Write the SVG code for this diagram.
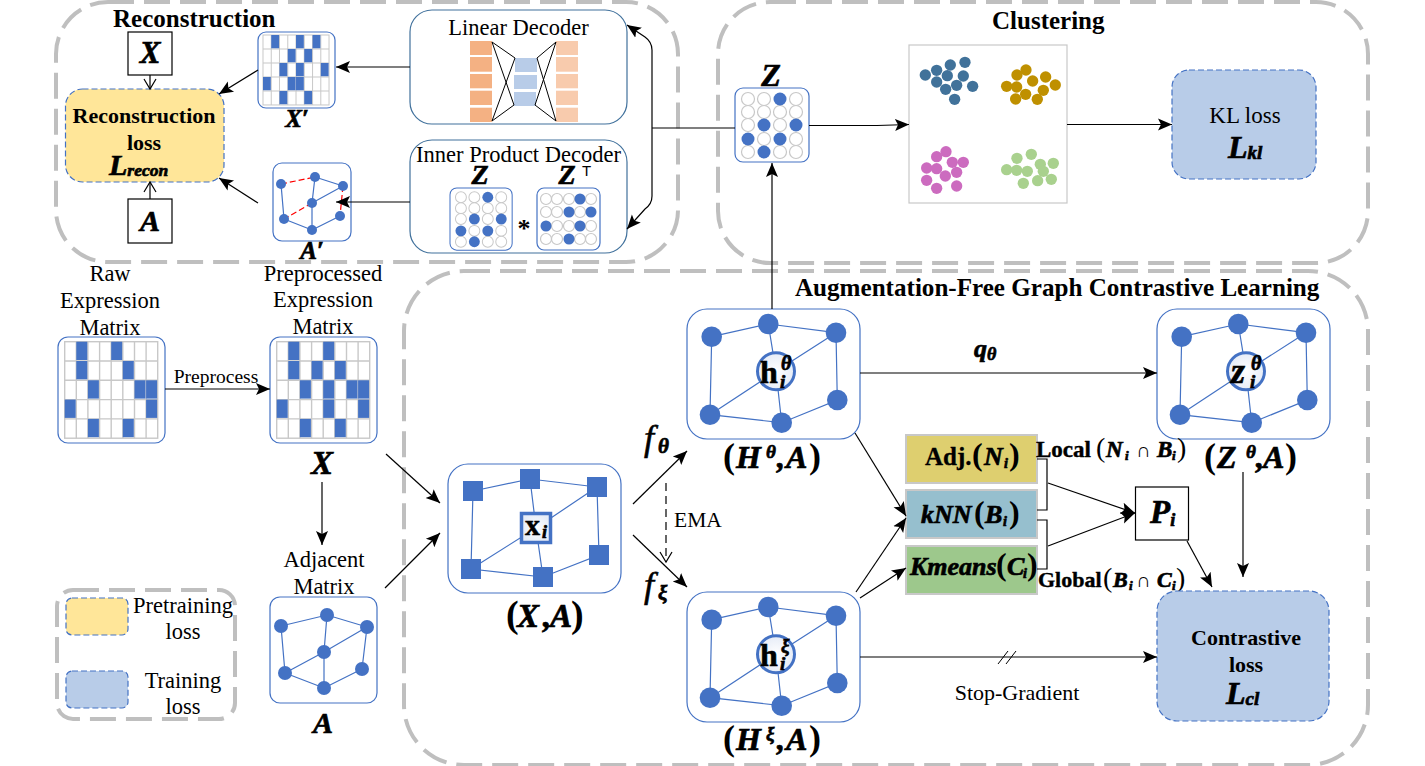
<svg xmlns="http://www.w3.org/2000/svg" width="1425" height="766" viewBox="0 0 1425 766">
<style>
text{font-family:"Liberation Serif","Times New Roman",serif;fill:#000}
.t{font-size:22.500px;text-anchor:middle}
.b{font-weight:bold}
.m{font-weight:bold;font-style:italic;stroke:#000;stroke-width:.7px}
.p{font-weight:bold;font-style:normal;stroke:none}
.u{font-weight:normal;font-style:normal;stroke:none}
.mid{text-anchor:middle}
.frame{fill:none;stroke:#bfbfbf;stroke-width:4;stroke-dasharray:26 10}
.card{fill:#fff;stroke:#4472c4;stroke-width:1.2}
.dec{fill:#fff;stroke:#41719c;stroke-width:1.2}
.lossY{fill:#ffe699;stroke:#4472c4;stroke-width:1.2;stroke-dasharray:6 3}
.lossB{fill:#b8cce8;stroke:#4472c4;stroke-width:1.2;stroke-dasharray:6 3}
.e{stroke:#4472c4;stroke-width:1.2;fill:none}
.r{stroke:#f00;stroke-width:1.2;fill:none;stroke-dasharray:6 3}
.n{fill:#4472c4}
.o{fill:#fff;stroke:#c8c8c8;stroke-width:1.2}
.c{fill:none;stroke:#000;stroke-width:1.2}
.a{marker-end:url(#arr)}
.v{marker-end:url(#vee)}
.box{fill:#fff;stroke:#000;stroke-width:1.2}
.tag{stroke:#c8c8c8;stroke-width:2}
.th{fill:none;stroke:#000;stroke-width:1}
</style>
<defs>
<marker id="arr" markerUnits="userSpaceOnUse" markerWidth="15" markerHeight="15" viewBox="0 0 15 15" refX="14" refY="7.500" orient="auto"><path d="M0 1.500 L14 7.500 L0 13.500 L3 7.500Z" fill="#000"/></marker>
<marker id="arrS" markerUnits="userSpaceOnUse" markerWidth="15" markerHeight="15" viewBox="0 0 15 15" refX="14" refY="7.500" orient="auto-start-reverse"><path d="M0 1.500 L14 7.500 L0 13.500 L3 7.500Z" fill="#000"/></marker>
<marker id="vee" markerUnits="userSpaceOnUse" markerWidth="14" markerHeight="14" viewBox="0 0 14 14" refX="12" refY="7" orient="auto"><path d="M2 1 L12 7 L2 13" fill="none" stroke="#000" stroke-width="1.2"/></marker>
<radialGradient id="glow"><stop offset="0" stop-color="#fff"/><stop offset="1" stop-color="#e6ecf7"/></radialGradient>
<rect id="cell" width="11" height="18.300" fill="#4472c4"/>
<g id="gridbase">
<rect x="0" y="0" width="93" height="96.500" fill="#fff" stroke="#c8c8c8" stroke-width="1.400"/>
<path d="M11.600 0V96.500M23.200 0V96.500M34.900 0V96.500M46.500 0V96.500M58.100 0V96.500M69.800 0V96.500M81.400 0V96.500M0 19.300H93M0 38.600H93M0 57.900H93M0 77.200H93" fill="none" stroke="#c8c8c8" stroke-width="1.400"/>
</g>
<g id="zmat">
<rect class="card" x="0" y="0" width="74" height="74" rx="8"/>
<g class="o"><circle cx="13" cy="11" r="6.500"/><circle cx="29" cy="11" r="6.500"/><circle cx="61" cy="11" r="6.500"/><circle cx="13" cy="24" r="6.500"/><circle cx="29" cy="24" r="6.500"/><circle cx="45" cy="24" r="6.500"/><circle cx="61" cy="24" r="6.500"/><circle cx="13" cy="37" r="6.500"/><circle cx="45" cy="37" r="6.500"/><circle cx="29" cy="51" r="6.500"/><circle cx="61" cy="51" r="6.500"/><circle cx="13" cy="64" r="6.500"/><circle cx="45" cy="64" r="6.500"/><circle cx="61" cy="64" r="6.500"/></g>
<g class="n"><circle cx="45" cy="11" r="6.500"/><circle cx="29" cy="37" r="6.500"/><circle cx="61" cy="37" r="6.500"/><circle cx="13" cy="51" r="6.500"/><circle cx="45" cy="51" r="6.500"/><circle cx="29" cy="64" r="6.500"/></g>
</g>
<g id="hgraph">
<rect class="card" x="0" y="0" width="173" height="130" rx="20"/>
<path class="e" d="M24.700 27.700L81.300 15L149 23.700M24.700 27.700L23 105.700L94.700 113.700L150.300 91L149 23.700M81.300 15L89 62.300M149 23.700L89 62.300M23 105.700L89 62.300M94.700 113.700L89 62.300"/>
<g class="n"><circle cx="24.700" cy="27.700" r="10.300"/><circle cx="81.300" cy="15" r="10.300"/><circle cx="149" cy="23.700" r="10.300"/><circle cx="150.300" cy="91" r="10.300"/><circle cx="94.700" cy="113.700" r="10.300"/><circle cx="23" cy="105.700" r="10.300"/></g>
<circle cx="89" cy="62.300" r="18.500" fill="url(#glow)" stroke="#4472c4" stroke-width="3"/>
</g>
</defs>

<g id="frames">
<rect class="frame" x="56" y="2" width="622" height="260" rx="52"/>
<rect class="frame" x="718" y="2" width="650" height="261" rx="52"/>
<rect class="frame" x="404" y="271" width="964" height="494" rx="60"/>
<rect class="frame" x="57" y="590" width="178" height="129" rx="16"/>
</g>

<g id="title-recon"><text class="b" x="113" y="27" font-size="25">Reconstruction</text></g>
<g id="title-cluster"><text class="b" x="992" y="29" font-size="25">Clustering</text></g>
<g id="title-afgcl"><text class="b" x="795" y="296" font-size="25.100">Augmentation-Free Graph Contrastive Learning</text></g>

<g id="node-x-target"><rect class="box" x="128" y="32" width="44" height="43"/><text class="m mid" x="150" y="63" font-size="31">X</text></g>
<g id="node-a-target"><rect class="box" x="128" y="199" width="44" height="44"/><text class="m mid" x="150" y="231" font-size="30">A</text></g>

<g id="node-recon-loss">
<rect class="lossY" x="65.500" y="89" width="158.500" height="93" rx="17"/>
<text class="t b" x="144" y="123" style="font-size:22px">Reconstruction</text>
<text class="t b" x="144" y="150" style="font-size:22px">loss</text>
<text class="m" x="109" y="175" font-size="30">L<tspan font-size="17.500" dy="1">recon</tspan></text>
</g>

<g id="node-xprime">
<rect class="card" x="258" y="32" width="77" height="76" rx="8"/>
<g transform="translate(263 35) scale(.71 .725)">
<use href="#gridbase"/>
<use href="#cell" x="11.600" y="0"/><use href="#cell" x="46.500" y="0"/><use href="#cell" x="69.800" y="0"/>
<use href="#cell" x="34.900" y="19.300"/><use href="#cell" x="58.100" y="19.300"/>
<use href="#cell" x="23.200" y="38.600"/><use href="#cell" x="46.500" y="38.600"/><use href="#cell" x="81.400" y="38.600"/>
<use href="#cell" x="0" y="57.900"/><use href="#cell" x="34.900" y="57.900"/><use href="#cell" x="46.500" y="57.900"/>
<use href="#cell" x="23.200" y="77.200"/><use href="#cell" x="58.100" y="77.200"/>
</g>
<text class="m mid" x="297" y="127" font-size="25">X′</text>
</g>

<g id="node-aprime">
<rect class="card" x="273" y="163" width="78" height="78" rx="9"/>
<path class="e" d="M315 177L343 186M281 184L284 219M315 177L312 203M343 186L312 203M312 203V230M284 219L312 230M340 216L312 230"/>
<path class="r" d="M281 184L315 177M343 186L340 216M312 203L284 219"/>
<g class="n"><circle cx="281" cy="184" r="5"/><circle cx="315" cy="177" r="5"/><circle cx="343" cy="186" r="5"/><circle cx="312" cy="203" r="5"/><circle cx="340" cy="216" r="5"/><circle cx="284" cy="219" r="5"/><circle cx="312" cy="230" r="5"/></g>
<text class="m mid" x="312" y="259" font-size="25">A′</text>
</g>

<g id="node-linear-decoder">
<rect class="dec" x="410" y="10" width="217" height="114" rx="22"/>
<text class="t" x="518.500" y="35">Linear Decoder</text>
<g fill="#f4b183"><rect x="470" y="41" width="22" height="14"/><rect x="470" y="57" width="22" height="14.700"/><rect x="470" y="74" width="22" height="14.300"/><rect x="470" y="90.700" width="22" height="14.300"/><rect x="470" y="107.700" width="22" height="14.300"/></g>
<g fill="#f8cbad"><rect x="556" y="41" width="22" height="14"/><rect x="556" y="57" width="22" height="14.700"/><rect x="556" y="74" width="22" height="14.300"/><rect x="556" y="90.700" width="22" height="14.300"/><rect x="556" y="107.700" width="22" height="14.300"/></g>
<g fill="#b8cce8"><rect x="515" y="58" width="22" height="14"/><rect x="514" y="75" width="23" height="14"/><rect x="514" y="92" width="22" height="14"/></g>
<path d="M492 42L515 58M492 42L514 105M492 121L515 58M492 121L514 105M537 58L556 42M537 58L556 121M535 105L556 42M535 105L556 121" fill="none" stroke="#000" stroke-width="1"/>
</g>

<g id="node-inner-decoder">
<rect class="dec" x="410" y="140" width="217" height="113" rx="22"/>
<text class="t" x="518.500" y="162">Inner Product Decoder</text>
<text class="m mid" x="480" y="184" font-size="28">Z</text>
<text class="m mid" x="567" y="184" font-size="28">Z</text>
<text x="582" y="176" font-size="15" style="font-family:'Liberation Sans',Arial,sans-serif">T</text>
<use href="#zmat" transform="translate(450 188) scale(.84)"/>
<text class="b mid" x="524" y="237" font-size="26">*</text>
<rect class="card" x="537" y="188" width="63" height="62" rx="7"/>
<g class="o"><circle cx="546" cy="199" r="5.500"/><circle cx="557" cy="199" r="5.500"/><circle cx="569" cy="199" r="5.500"/><circle cx="591" cy="199" r="5.500"/><circle cx="546" cy="212" r="5.500"/><circle cx="557" cy="212" r="5.500"/><circle cx="580" cy="212" r="5.500"/><circle cx="557" cy="226" r="5.500"/><circle cx="569" cy="226" r="5.500"/><circle cx="591" cy="226" r="5.500"/><circle cx="546" cy="239" r="5.500"/><circle cx="557" cy="239" r="5.500"/><circle cx="580" cy="239" r="5.500"/><circle cx="591" cy="239" r="5.500"/></g>
<g class="n"><circle cx="580" cy="199" r="5.500"/><circle cx="569" cy="212" r="5.500"/><circle cx="591" cy="212" r="5.500"/><circle cx="546" cy="226" r="5.500"/><circle cx="580" cy="226" r="5.500"/><circle cx="569" cy="239" r="5.500"/></g>
</g>

<g id="node-z">
<text class="m mid" x="771" y="86" font-size="32">Z</text>
<use href="#zmat" transform="translate(735 88)"/>
</g>

<g id="node-clusters">
<rect x="909" y="45" width="158" height="158" fill="#fff" stroke="#c8c8c8" stroke-width="1.200"/>
<g transform="translate(720 30) scale(.3333)">
<g fill="#41729a"><circle cx="735" cy="97" r="17"/><circle cx="691" cy="105" r="17"/><circle cx="650" cy="121" r="17"/><circle cx="616" cy="135" r="17"/><circle cx="682" cy="137" r="17"/><circle cx="730" cy="138" r="17"/><circle cx="650" cy="156" r="17"/><circle cx="710" cy="166" r="17"/><circle cx="758" cy="169" r="17"/><circle cx="677" cy="178" r="17"/><circle cx="704" cy="208" r="17"/></g>
<g fill="#bf9000"><circle cx="918" cy="120" r="17"/><circle cx="891" cy="135" r="17"/><circle cx="977" cy="141" r="17"/><circle cx="938" cy="153" r="17"/><circle cx="1006" cy="165" r="17"/><circle cx="860" cy="169" r="17"/><circle cx="890" cy="171" r="17"/><circle cx="970" cy="181" r="17"/><circle cx="917" cy="193" r="17"/><circle cx="887" cy="207" r="17"/><circle cx="952" cy="208" r="17"/></g>
<g fill="#cc6bbf"><circle cx="678" cy="365" r="17"/><circle cx="650" cy="380" r="17"/><circle cx="730" cy="397" r="17"/><circle cx="697" cy="397" r="17"/><circle cx="620" cy="414" r="17"/><circle cx="650" cy="416" r="17"/><circle cx="710" cy="427" r="17"/><circle cx="676" cy="438" r="17"/><circle cx="620" cy="451" r="17"/><circle cx="710" cy="468" r="17"/><circle cx="650" cy="475" r="17"/></g>
<g fill="#a9d18e"><circle cx="934" cy="373" r="17"/><circle cx="891" cy="385" r="17"/><circle cx="961" cy="403" r="17"/><circle cx="1000" cy="400" r="17"/><circle cx="860" cy="419" r="17"/><circle cx="890" cy="421" r="17"/><circle cx="922" cy="424" r="17"/><circle cx="970" cy="424" r="17"/><circle cx="994" cy="448" r="17"/><circle cx="953" cy="452" r="17"/><circle cx="910" cy="460" r="17"/></g>
</g>
</g>

<g id="node-kl">
<rect class="lossB" x="1172" y="70" width="144" height="109" rx="17"/>
<text class="mid" x="1245" y="123" font-size="23">KL loss</text>
<text class="m" x="1228" y="158" font-size="32">L<tspan font-size="19" dy="1">kl</tspan></text>
</g>

<g id="node-raw">
<text class="t" x="110" y="281">Raw</text><text class="t" x="110" y="308">Expression</text><text class="t" x="110" y="335">Matrix</text>
<rect class="card" x="58" y="337" width="107" height="106" rx="10"/>
<g transform="translate(64.700 341.700)">
<use href="#gridbase"/>
<use href="#cell" x="11.600" y="0"/><use href="#cell" x="46.500" y="0"/>
<use href="#cell" x="11.600" y="19.300"/><use href="#cell" x="58.100" y="19.300"/>
<use href="#cell" x="23.200" y="38.600"/><use href="#cell" x="69.800" y="38.600"/><use href="#cell" x="81.400" y="38.600"/>
<use href="#cell" x="0" y="57.900"/><use href="#cell" x="81.400" y="57.900"/>
<use href="#cell" x="23.200" y="77.200"/><use href="#cell" x="58.100" y="77.200"/>
</g>
</g>
<text id="label-preprocess" class="mid" x="216" y="383" font-size="19.500">Preprocess</text>

<g id="node-preprocessed">
<text class="t" x="323" y="281">Preprocessed</text><text class="t" x="323" y="307">Expression</text><text class="t" x="323" y="334">Matrix</text>
<rect class="card" x="270" y="337" width="107" height="106" rx="10"/>
<g transform="translate(276.700 341.700)">
<use href="#gridbase"/>
<use href="#cell" x="11.600" y="0"/><use href="#cell" x="46.500" y="0"/>
<use href="#cell" x="11.600" y="19.300"/><use href="#cell" x="34.900" y="19.300"/><use href="#cell" x="58.100" y="19.300"/>
<use href="#cell" x="23.200" y="38.600"/><use href="#cell" x="46.500" y="38.600"/><use href="#cell" x="69.800" y="38.600"/><use href="#cell" x="81.400" y="38.600"/>
<use href="#cell" x="0" y="57.900"/><use href="#cell" x="46.500" y="57.900"/><use href="#cell" x="81.400" y="57.900"/>
<use href="#cell" x="23.200" y="77.200"/><use href="#cell" x="58.100" y="77.200"/>
</g>
<text class="m mid" x="322" y="474" font-size="33">X</text>
</g>

<g id="node-adj">
<text class="t" x="324" y="567">Adjacent</text><text class="t" x="324" y="594">Matrix</text>
<rect class="card" x="270" y="597" width="107" height="106" rx="10"/>
<path class="e" d="M281 626L327 615L367 627M281 626L285 673M327 615L324 652M367 627L324 652M367 627L362 669M324 652L285 673M324 652V688M362 669L324 688M285 673L324 688"/>
<g class="n"><circle cx="281" cy="626" r="7"/><circle cx="327" cy="615" r="7"/><circle cx="367" cy="627" r="7"/><circle cx="324" cy="652" r="7"/><circle cx="362" cy="669" r="7"/><circle cx="285" cy="673" r="7"/><circle cx="324" cy="688" r="7"/></g>
<text class="m mid" x="323" y="733" font-size="30">A</text>
</g>

<g id="node-legend">
<rect class="lossY" x="66" y="598" width="62" height="37" rx="6"/>
<rect class="lossB" x="66" y="671" width="62" height="37" rx="6"/>
<text class="t" x="183" y="613">Pretraining</text><text class="t" x="183" y="639">loss</text>
<text class="t" x="183" y="688">Training</text><text class="t" x="183" y="714">loss</text>
</g>

<g id="node-xa">
<rect class="card" x="448" y="464" width="173" height="129" rx="20"/>
<path class="e" d="M473 491L530 479L597 487M473 491L471 569L543 577L599 555L597 487M530 479L536 528M597 487L536 528M471 569L536 528M543 577L536 528"/>
<g class="n"><rect x="463" y="481" width="20" height="20"/><rect x="520" y="469" width="20" height="20"/><rect x="587" y="477" width="20" height="20"/><rect x="589" y="545" width="20" height="20"/><rect x="533" y="567" width="20" height="20"/><rect x="461" y="559" width="20" height="20"/></g>
<rect x="521.500" y="513.500" width="29" height="29" fill="url(#glow)" stroke="#4472c4" stroke-width="3.500"/>
<text class="b" x="525" y="535" font-size="30" stroke="#000" stroke-width=".5">x</text><text class="m" x="542" y="538" font-size="18">i</text>
<text class="m" y="627" font-size="33"><tspan class="p" x="506" font-size="38">(</tspan><tspan x="517">X</tspan><tspan x="543">,</tspan><tspan x="550">A</tspan><tspan class="p" x="571" font-size="38">)</tspan></text>
</g>

<g id="label-f">
<text class="u" x="644" y="450" font-size="36" style="font-style:italic;stroke:#000;stroke-width:.6px">f</text><text class="m" x="658" y="453" font-size="21">θ</text>
<text class="u" x="644" y="597" font-size="36" style="font-style:italic;stroke:#000;stroke-width:.6px">f</text><text class="m" x="658" y="600" font-size="21">ξ</text>
<text x="674" y="527" font-size="21.500">EMA</text>
</g>

<g id="node-h-theta">
<use href="#hgraph" x="687" y="309"/>
<text class="b" x="760" y="383" font-size="32" stroke="#000" stroke-width=".6">h</text><text class="m" x="781" y="370" font-size="20">θ</text><text class="m" x="780" y="388" font-size="19">i</text>
<text class="m" y="468" font-size="32"><tspan class="p" x="723" font-size="36">(</tspan><tspan x="736">H</tspan><tspan x="766" dy="-10" font-size="19">θ</tspan><tspan x="777" dy="10">,</tspan><tspan x="786">A</tspan><tspan class="p" x="809" font-size="36">)</tspan></text>
</g>

<g id="node-h-xi">
<use href="#hgraph" x="687" y="592"/>
<text class="b" x="760" y="666" font-size="32" stroke="#000" stroke-width=".6">h</text><text class="m" x="781" y="652" font-size="19">ξ</text><text class="m" x="780" y="670" font-size="19">i</text>
<text class="m" y="750" font-size="32"><tspan class="p" x="723" font-size="36">(</tspan><tspan x="736">H</tspan><tspan x="766" dy="-10" font-size="19">ξ</tspan><tspan x="777" dy="10">,</tspan><tspan x="786">A</tspan><tspan class="p" x="809" font-size="36">)</tspan></text>
</g>

<g id="node-z-theta">
<use href="#hgraph" x="1157" y="309"/>
<text class="m" x="1231" y="383" font-size="36">z</text><text class="m" x="1251" y="370" font-size="20">θ</text><text class="m" x="1250" y="388" font-size="19">i</text>
<text class="m" y="468" font-size="32"><tspan class="p" x="1204" font-size="36">(</tspan><tspan x="1217">Z</tspan><tspan x="1246" dy="-10" font-size="19">θ</tspan><tspan x="1256" dy="10">,</tspan><tspan x="1263">A</tspan><tspan class="p" x="1285" font-size="36">)</tspan></text>
</g>

<text id="label-q" class="m" x="974" y="357" font-size="26">q<tspan font-size="18" dy="3">θ</tspan></text>
<text id="label-stop" class="mid" x="1017" y="700" font-size="22">Stop-Gradient</text>

<g id="node-adj-set">
<rect class="tag" x="906" y="435" width="131" height="48" fill="#decf6f"/>
<text y="465" font-size="25"><tspan class="b" x="925" stroke="#000" stroke-width=".3">Adj.</tspan><tspan class="p" x="972" font-size="32">(</tspan><tspan class="m" x="984" font-size="26">N</tspan><tspan class="m" x="1004" font-size="14" dy="3">i</tspan><tspan class="p" x="1009" font-size="32" dy="-3">)</tspan></text>
</g>
<g id="node-knn">
<rect class="tag" x="906" y="490" width="131" height="48" fill="#96bfce"/>
<text y="523" font-size="26"><tspan class="m" x="921">kNN</tspan><tspan class="p" x="974" font-size="32">(</tspan><tspan class="m" x="985">B</tspan><tspan class="m" x="1003" font-size="14" dy="3">i</tspan><tspan class="p" x="1009" font-size="32" dy="-3">)</tspan></text>
</g>
<g id="node-kmeans">
<rect class="tag" x="906" y="546" width="131" height="48" fill="#9dc88c"/>
<text y="575" font-size="26"><tspan class="m" x="910">Kmeans</tspan><tspan class="p" x="996" font-size="32">(</tspan><tspan class="m" x="1007">C</tspan><tspan class="m" x="1023" font-size="14" dy="3">i</tspan><tspan class="p" x="1027" font-size="32" dy="-3">)</tspan></text>
</g>
<text id="label-local" y="457" font-size="23"><tspan class="b" x="1036" stroke="#000" stroke-width=".4">Local</tspan><tspan class="u" x="1096" font-size="28">(</tspan><tspan class="m" x="1106">N</tspan><tspan class="m" x="1125" font-size="13" dy="3">i</tspan><tspan class="u" x="1136" dy="-3" font-size="20">∩</tspan><tspan class="m" x="1157">B</tspan><tspan class="m" x="1172" font-size="13" dy="3">i</tspan><tspan class="u" x="1177" font-size="28" dy="-3">)</tspan></text>
<text id="label-global" y="587" font-size="22"><tspan class="b" x="1038" stroke="#000" stroke-width=".4">Global</tspan><tspan class="u" x="1103" font-size="28">(</tspan><tspan class="m" x="1113">B</tspan><tspan class="m" x="1129" font-size="13" dy="3">i</tspan><tspan class="u" x="1136" dy="-3" font-size="20">∩</tspan><tspan class="m" x="1157">C</tspan><tspan class="m" x="1172" font-size="13" dy="3">i</tspan><tspan class="u" x="1176" font-size="28" dy="-3">)</tspan></text>

<g id="node-p">
<rect class="box" x="1135.500" y="487" width="53" height="53"/>
<text class="m" x="1150" y="523" font-size="33">P<tspan font-size="18" dy="3">i</tspan></text>
</g>

<g id="node-contrastive">
<rect class="lossB" x="1157" y="591" width="172" height="130" rx="20"/>
<text class="mid b" x="1246" y="645" font-size="22">Contrastive</text>
<text class="mid b" x="1246" y="672" font-size="22">loss</text>
<text class="m" x="1226" y="704" font-size="32">L<tspan font-size="19" dy="1">cl</tspan></text>
</g>

<g id="connectors">
<path class="c v" d="M150 75V89"/>
<path class="c v" d="M150 199V182"/>
<path class="c a" d="M258 70L219 94"/>
<path class="c a" d="M258 203L219 178"/>
<path class="c a" d="M410 67H336"/>
<path class="c a" d="M410 202H336"/>
<path class="c" d="M627 25L645 37Q652 42 652 50V196Q652 204 645 209L627 229" marker-start="url(#arrS)" marker-end="url(#arrS)"/>
<path class="c" d="M652 128H735"/>
<path class="c a" d="M809 125.500H877L909 124.500"/>
<path class="c a" d="M1067 124.500H1172"/>
<path class="c a" d="M772 309V163"/>
<path class="c a" d="M165 389H270"/>
<path class="c a" d="M322 482V545"/>
<path class="c a" d="M386 454L440 503"/>
<path class="c a" d="M385 588L440 533"/>
<path class="c a" d="M633 504L687 451"/>
<path class="c a" d="M633 535L687 587"/>
<path class="c v" d="M666 483V562" stroke-dasharray="8 5"/>
<path class="c a" d="M860 373H1157"/>
<path class="c a" d="M860 657H1157"/>
<path class="th" d="M998 664L1008 651M1006 664L1016 651"/>
<path class="c a" d="M855 433L906 516"/>
<path class="c a" d="M856 592L906 518"/>
<path class="c a" d="M860 598L906 568"/>
<path class="c" d="M1037 459H1047V510H1037M1037 520H1047V569H1037"/>
<path class="c a" d="M1048 483L1135 513"/>
<path class="c a" d="M1048 546L1135 513"/>
<path class="c a" d="M1187 541L1212 587"/>
<path class="c a" d="M1243 472V577"/>
</g>
</svg>
